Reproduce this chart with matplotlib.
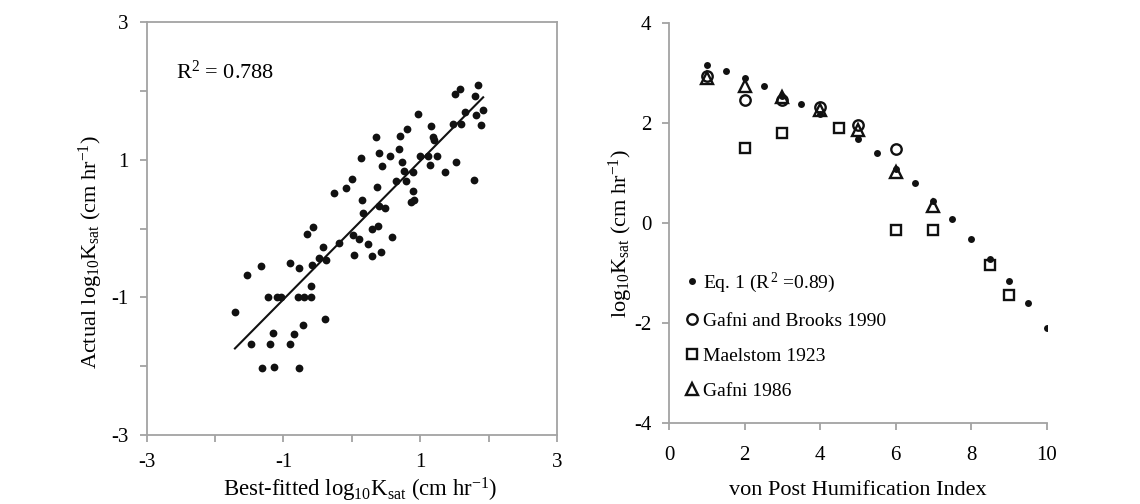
import numpy as np
import matplotlib
matplotlib.use('Agg')
import matplotlib.pyplot as plt

plt.rcParams['font.family'] = ['Liberation Serif', 'DejaVu Serif']
plt.rcParams['mathtext.fontset'] = 'custom'
plt.rcParams['mathtext.rm'] = 'Liberation Serif'
plt.rcParams['mathtext.it'] = 'Liberation Serif:italic'

# left panel: best-fitted vs actual log10 Ksat
fitted = [-1.71, -1.54, -1.48, -1.33, -1.32, -1.22, -1.19, -1.15, -1.14, -1.10,
          -1.03, -0.91, -0.90, -0.84, -0.79, -0.77, -0.77, -0.72, -0.70, -0.66,
          -0.60, -0.60, -0.58, -0.57, -0.48, -0.42, -0.40, -0.38, -0.26, -0.19,
          -0.08, 0.00, 0.02, 0.03, 0.11, 0.13, 0.15, 0.16, 0.23, 0.29,
          0.30, 0.35, 0.37, 0.38, 0.39, 0.40, 0.42, 0.44, 0.48, 0.56,
          0.58, 0.65, 0.69, 0.70, 0.74, 0.76, 0.79, 0.81, 0.87, 0.89,
          0.90, 0.91, 0.97, 0.99, 1.11, 1.15, 1.16, 1.19, 1.20, 1.24,
          1.36, 1.48, 1.51, 1.53, 1.58, 1.60, 1.66, 1.79, 1.80, 1.81,
          1.84, 1.89, 1.92]
actual = [-1.21, -0.68, -1.68, -0.55, -2.03, -0.99, -1.68, -1.52, -2.01, -0.99,
          -0.99, -1.68, -0.50, -1.53, -0.99, -0.58, -2.02, -1.40, -0.99, -0.08,
          -0.99, -0.84, -0.53, 0.02, -0.43, -0.27, -1.31, -0.46, 0.52, -0.21,
          0.59, 0.72, -0.10, -0.39, -0.15, 1.02, 0.41, 0.22, -0.22, -0.40,
          -0.01, 1.33, 0.61, 0.03, 1.10, 0.33, -0.34, 0.91, 0.30, 1.05,
          -0.12, 0.69, 1.16, 1.35, 0.96, 0.84, 0.69, 1.44, 0.39, 0.82,
          0.55, 0.42, 1.67, 1.06, 1.06, 0.93, 1.49, 1.33, 1.28, 1.06,
          0.82, 1.52, 1.96, 0.96, 2.02, 1.52, 1.69, 0.71, 1.93, 1.65,
          2.08, 1.51, 1.72]
r2_text = 'R$^2$ = 0.788'

# right panel: log10 Ksat vs von Post index
eq1_x = [1, 1.5, 2, 2.5, 3, 3.5, 4, 5, 5.5, 6, 6.5, 7, 7.5, 8, 8.5, 9, 9.5, 10]
eq1_y = [3.15, 3.03, 2.89, 2.74, 2.54, 2.37, 2.17, 1.67, 1.40, 1.08, 0.79, 0.44,
         0.08, -0.31, -0.71, -1.15, -1.60, -2.09]
gb_x = [1, 2, 3, 4, 5, 6]
gb_y = [2.93, 2.46, 2.46, 2.32, 1.95, 1.47]
mael_x = [2, 3, 4.5, 6, 7, 8.5, 9]
mael_y = [1.49, 1.79, 1.90, -0.14, -0.14, -0.84, -1.44]
gaf_x = [1, 2, 3, 4, 5, 6, 7]
gaf_y = [2.89, 2.74, 2.52, 2.26, 1.86, 1.02, 0.33]

spine_col = '#a3a3a3'
fs_tick = 15
fs_lab = 16

fig = plt.figure(figsize=(11.4, 5.04), dpi=100)

ax1 = fig.add_axes([0.1287, 0.1369, 0.3599, 0.8194])
ax1.plot(fitted, actual, 'o', color='#111111', markersize=5.6, markeredgewidth=0)
coef = np.polyfit(fitted, actual, 1)
xl = np.array([min(fitted), max(fitted)])
ax1.plot(xl, np.polyval(coef, xl), color='#111111', linewidth=1.5)
ax1.text(-2.57, 2.27, r2_text, fontsize=fs_lab, va='center', ha='left')
ax1.set_xlim(-3, 3)
ax1.set_ylim(-3, 3)
ax1.set_xticks([-3, -1, 1, 3])
ax1.set_yticks([-3, -1, 1, 3])
ax1.set_xticks([-2, 0, 2], minor=True)
ax1.set_yticks([-2, 0, 2], minor=True)
ax1.set_xticklabels(['-3', '-1', '1', '3'])
ax1.set_yticklabels(['-3', '-1', '1', '3'])
ax1.set_xlabel('Best-fitted log$_{10}$K$_{\\mathrm{sat}}$ (cm hr$^{-1}$)', fontsize=16.4, labelpad=3)
ax1.set_ylabel('Actual log$_{10}$K$_{\\mathrm{sat}}$ (cm hr$^{-1}$)', fontsize=fs_lab, labelpad=4.5)
ax1.xaxis.label.set_x(0.52)
ax1.yaxis.label.set_y(0.443)
for s in ax1.spines.values():
    s.set_color(spine_col)
    s.set_linewidth(1.3)

ax2 = fig.add_axes([0.5871, 0.160, 0.3310, 0.795])
ax2.plot(eq1_x, eq1_y, 'o', color='#111111', markersize=5, markeredgewidth=0,
         label='Eq. 1 (R$^{\\,2}$ =0.89)')
ax2.plot(gb_x, gb_y, 'o', markerfacecolor='none', markeredgecolor='#111111',
         markersize=7.5, markeredgewidth=1.7, label='Gafni and Brooks 1990')
ax2.plot(mael_x, mael_y, 's', markerfacecolor='none', markeredgecolor='#111111',
         markersize=7.5, markeredgewidth=1.7, label='Maelstom 1923')
ax2.plot(gaf_x, gaf_y, '^', markerfacecolor='none', markeredgecolor='#111111',
         markersize=8, markeredgewidth=1.7, label='Gafni 1986')
ax2.set_xlim(0, 10)
ax2.set_ylim(-4, 4)
ax2.set_xticks([0, 2, 4, 6, 8, 10])
ax2.set_yticks([-4, -2, 0, 2, 4])
ax2.set_yticklabels(['-4', '-2', '0', '2', '4'])
ax2.set_xlabel('von Post Humification Index', fontsize=fs_lab, labelpad=12)
ax2.set_ylabel('log$_{10}$K$_{\\mathrm{sat}}$ (cm hr$^{-1}$)', fontsize=fs_lab, labelpad=-1)
ax2.yaxis.label.set_y(0.4725)
ax2.spines['top'].set_visible(False)
ax2.spines['right'].set_visible(False)
for s in ['left', 'bottom']:
    ax2.spines[s].set_color(spine_col)
    ax2.spines[s].set_linewidth(1.3)
leg = ax2.legend(loc='lower left', bbox_to_anchor=(0.044, 0.058), frameon=False,
                 fontsize=14, handlelength=0.6, handletextpad=0.3,
                 labelspacing=0.9, borderpad=0, borderaxespad=0)

ax1.tick_params(which='both', direction='out', length=5, width=1.3,
                color=spine_col, labelsize=fs_tick, pad=8)
ax2.tick_params(which='both', direction='out', length=5, width=1.3,
                color=spine_col, labelsize=fs_tick, pad=8)
ax2.tick_params(axis='x', pad=11)

fig.savefig('out.png', dpi=100)
